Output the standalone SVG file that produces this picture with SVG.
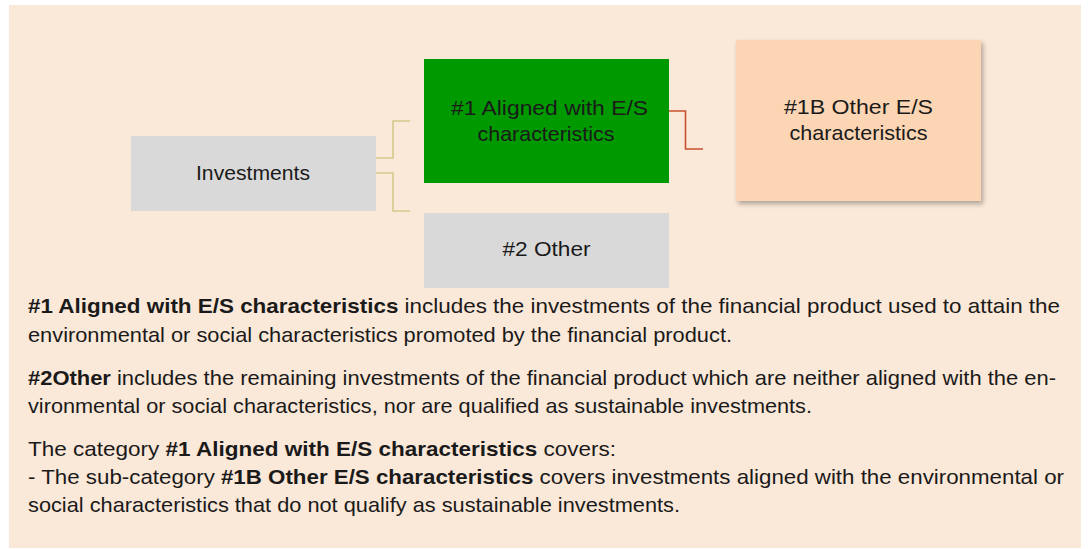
<svg xmlns="http://www.w3.org/2000/svg" width="1088" height="549" viewBox="0 0 1088 549">
<defs>
<style>
.t{font-family:"Liberation Sans",Arial,sans-serif;font-size:21px;fill:#1a1a1a}
.c{text-anchor:middle}
.b{font-weight:bold}
.conn{fill:none;stroke-width:1.6}
</style>
<filter id="sh" x="-10%" y="-10%" width="130%" height="130%">
<feDropShadow dx="2" dy="3" stdDeviation="2.5" flood-color="#000" flood-opacity="0.3"/>
</filter>
</defs>
<rect x="9" y="5" width="1072" height="543" fill="#fae8d8"/>
<g id="connectors">
<path class="conn" stroke="#d4c98a" d="M376,158 H393 V121 H410"/>
<path class="conn" stroke="#d4c98a" d="M376,173 H393 V211 H410"/>
<path class="conn" stroke="#c9502e" d="M669,111 H685.5 V149 H703"/>
</g>
<g id="investments">
<rect x="131" y="136" width="245" height="75" fill="#d9d9d9"/>
<text class="t c" x="253" y="180" textLength="114" lengthAdjust="spacingAndGlyphs">Investments</text>
</g>
<g id="aligned">
<rect x="424" y="59" width="245" height="124" fill="#009900"/>
<text class="t c" x="549.5" y="115" textLength="197" lengthAdjust="spacingAndGlyphs">#1 Aligned with E/S</text>
<text class="t c" x="546" y="141" textLength="137" lengthAdjust="spacingAndGlyphs">characteristics</text>
</g>
<g id="other1b">
<rect x="736" y="40" width="245" height="161" fill="#fcd5b4" filter="url(#sh)"/>
<text class="t c" x="858.5" y="114" textLength="149" lengthAdjust="spacingAndGlyphs">#1B Other E/S</text>
<text class="t c" x="858.5" y="140" textLength="138" lengthAdjust="spacingAndGlyphs">characteristics</text>
</g>
<g id="other2">
<rect x="424" y="213" width="245" height="75" fill="#d9d9d9"/>
<text class="t c" x="546.5" y="256" textLength="88" lengthAdjust="spacingAndGlyphs">#2 Other</text>
</g>
<g id="description">
<text class="t" x="28" y="313" textLength="1032" lengthAdjust="spacingAndGlyphs"><tspan class="b">#1 Aligned with E/S characteristics</tspan> includes the investments of the financial product used to attain the</text>
<text class="t" x="28" y="342" textLength="704" lengthAdjust="spacingAndGlyphs">environmental or social characteristics promoted by the financial product.</text>
<text class="t" x="28" y="385" textLength="1028" lengthAdjust="spacingAndGlyphs"><tspan class="b">#2Other</tspan> includes the remaining investments of the financial product which are neither aligned with the en-</text>
<text class="t" x="28" y="413" textLength="784" lengthAdjust="spacingAndGlyphs">vironmental or social characteristics, nor are qualified as sustainable investments.</text>
<text class="t" x="28" y="456" textLength="588" lengthAdjust="spacingAndGlyphs">The category <tspan class="b">#1 Aligned with E/S characteristics</tspan> covers:</text>
<text class="t" x="28" y="484" textLength="1036" lengthAdjust="spacingAndGlyphs">- The sub-category <tspan class="b">#1B Other E/S characteristics</tspan> covers investments aligned with the environmental or</text>
<text class="t" x="28" y="512" textLength="652" lengthAdjust="spacingAndGlyphs">social characteristics that do not qualify as sustainable investments.</text>
</g>
</svg>
